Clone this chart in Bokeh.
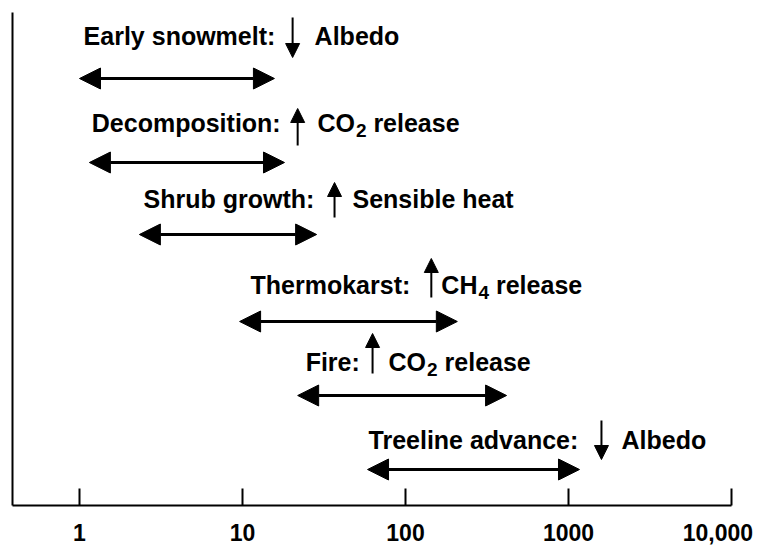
from bokeh.plotting import figure
from bokeh.models import ColumnDataSource, Arrow, NormalHead, FixedTicker, Range1d
from bokeh.core.properties import value
from bokeh.embed import file_html
from bokeh.resources import INLINE

# ---- data (time scale in years, log axis) ----
processes = ["Early snowmelt:", "Decomposition:", "Shrub growth:",
             "Thermokarst:", "Fire:", "Treeline advance:"]
effect_dir = ["down", "up", "up", "up", "up", "down"]
effect_main = ["Albedo", "CO", "Sensible heat", "CH", "CO", "Albedo"]
effect_sub = ["", "2", "", "4", "2", ""]
effect_tail = ["", "release", "", "release", "release", ""]
range_start = [1.0, 1.15, 2.33, 9.6, 21.8, 58.5]
range_end = [15.7, 18.1, 28.5, 208, 417, 1168]
tick_values = [1, 10, 100, 1000, 10000]
tick_labels = ["1", "10", "100", "1000", "10,000"]

# ---- annotation layout (vertical axis is a plain pixel-like scale) ----
row_y = [427, 343, 271, 184, 110, 36]
label_y = [470, 383, 307, 221, 144, 66]
label_x = [1.06, 1.19, 2.47, 11.2, 24.4, 59.3]
marker_x = [20.3, 21.8, 36.7, 144, 62.8, 1593]
marker_top = [488, 397, 323, 247, 172, 85]
marker_bottom = [448, 360, 288, 208, 132, 46]
effect_x = [27.7, 28.8, 47.3, 166, 78.7, 2114]

FONT = "Liberation Sans"
MAIN_SIZE = 25
SUB_SIZE = 19
# Liberation Sans Bold advance widths (per 1000 em)
ADV = {"C": 722, "O": 778, "H": 722, " ": 278, "2": 556, "4": 556}


def text_width(s, size):
    return sum(ADV.get(ch, 556) for ch in s) * size / 1000.0


p = figure(width=759, height=548, x_axis_type="log",
           x_range=Range1d(10 ** -0.411, 10000), y_range=Range1d(0, 493),
           output_backend="svg", toolbar_location=None,
           min_border_left=12, min_border_right=28, min_border_top=12,
           min_border_bottom=43, background_fill_color="white",
           border_fill_color="white")
p.outline_line_color = None
p.grid.visible = False

# x axis
xa = p.xaxis[0]
xa.ticker = FixedTicker(ticks=tick_values, minor_ticks=[])
overrides = {}
for v, lab in zip(tick_values, tick_labels):
    overrides[v] = lab + ("\u00a0" if v == tick_values[-1] else "")
xa.major_label_overrides = overrides
xa.major_tick_in = 17
xa.major_tick_out = 0
xa.minor_tick_in = 0
xa.minor_tick_out = 0
xa.axis_line_width = 2
xa.major_tick_line_width = 2
xa.major_label_standoff = 14
xa.major_label_text_font = FONT
xa.major_label_text_font_style = "bold"
xa.major_label_text_font_size = "23px"
xa.major_label_text_color = "black"

# y axis (bare line)
ya = p.yaxis[0]
ya.ticker = FixedTicker(ticks=[], minor_ticks=[])
ya.major_tick_in = 0
ya.major_tick_out = 0
ya.minor_tick_in = 0
ya.minor_tick_out = 0
ya.major_label_standoff = 0
ya.major_label_text_font_size = "0px"
ya.axis_line_width = 2

# range arrows (double-headed)
rng_src = ColumnDataSource(dict(xs=range_start, xe=range_end, y=row_y))
p.add_layout(Arrow(x_start="xs", y_start="y", x_end="xe", y_end="y", source=rng_src,
                   start=NormalHead(size=21, fill_color="black", line_color="black"),
                   end=NormalHead(size=21, fill_color="black", line_color="black"),
                   line_width=3, line_color="black"))

# effect direction arrows
ys, ye = [], []
for d, t, b in zip(effect_dir, marker_top, marker_bottom):
    if d == "down":
        ys.append(t); ye.append(b)
    else:
        ys.append(b); ye.append(t)
mk_src = ColumnDataSource(dict(x=marker_x, ys=ys, ye=ye))
p.add_layout(Arrow(x_start="x", y_start="ys", x_end="x", y_end="ye", source=mk_src,
                   end=NormalHead(size=14, fill_color="black", line_color="black"),
                   line_width=2, line_color="black"))

common = dict(text_font=value(FONT), text_font_style="bold", text_color="black",
              text_baseline="alphabetic", text_align="left")

# process labels
p.text(x=label_x, y=label_y, text=processes, text_font_size=f"{MAIN_SIZE}px", **common)

# effect labels
p.text(x=effect_x, y=label_y, text=effect_main, text_font_size=f"{MAIN_SIZE}px", **common)

sub_x, sub_y, sub_t, sub_dx = [], [], [], []
tail_x, tail_y, tail_t, tail_dx = [], [], [], []
for ex, ly, m, s, t in zip(effect_x, label_y, effect_main, effect_sub, effect_tail):
    wm = text_width(m, MAIN_SIZE)
    if s:
        sub_x.append(ex); sub_y.append(ly); sub_t.append(s); sub_dx.append(wm + 1)
    if t:
        tail_x.append(ex); tail_y.append(ly); tail_t.append(t)
        tail_dx.append(wm + 1 + text_width(s, SUB_SIZE) + text_width(" ", MAIN_SIZE))

p.text(x="x", y="y", text="t", x_offset="dx", y_offset=8,
       source=ColumnDataSource(dict(x=sub_x, y=sub_y, t=sub_t, dx=sub_dx)),
       text_font_size=f"{SUB_SIZE}px", **common)
p.text(x="x", y="y", text="t", x_offset="dx",
       source=ColumnDataSource(dict(x=tail_x, y=tail_y, t=tail_t, dx=tail_dx)),
       text_font_size=f"{MAIN_SIZE}px", **common)

open("out.html", "w").write(file_html(p, INLINE))
